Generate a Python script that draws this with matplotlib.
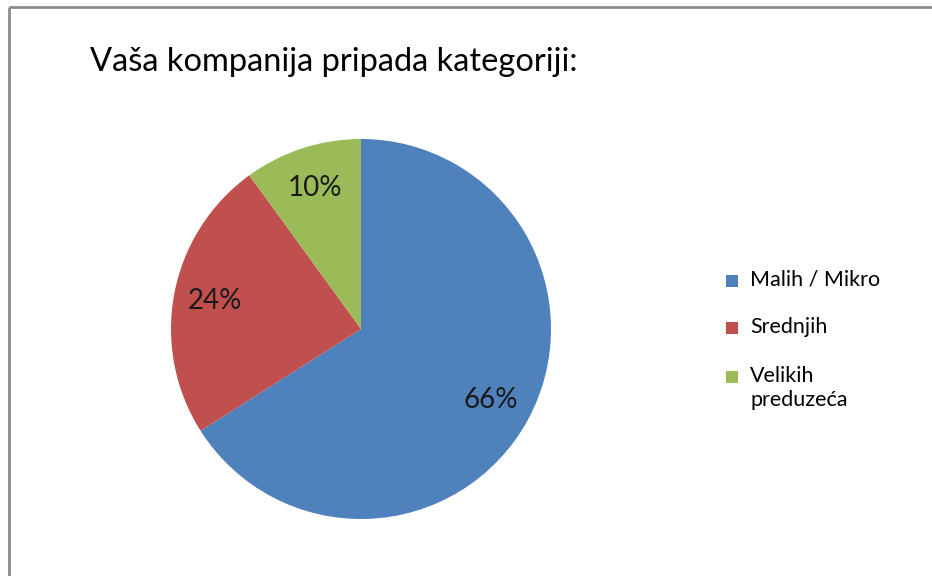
import matplotlib.pyplot as plt
from matplotlib.lines import Line2D
from matplotlib.patches import Rectangle

#%% Podaci

kategorije = ['Malih / Mikro', 'Srednjih', 'Velikih\npreduzeća']
procenti = [66, 24, 10]
boje = ['#4F81BD', '#C0504D', '#9BBB59']
naslov = 'Vaša kompanija pripada kategoriji:'

#%% Grafik

plt.rcParams['font.family'] = ['Lato', 'DejaVu Sans']

W, H = 932, 576
fig = plt.figure(figsize=(W / 100, H / 100), dpi=100)
fig.patch.set_facecolor('white')

# okvir (gore i levo)
fig.add_artist(Line2D([9/W, 9/W], [0, 1 - 7/H], transform=fig.transFigure,
                      color='#8c8c8c', lw=2, solid_capstyle='butt'))
fig.add_artist(Line2D([9/W, 1.01], [1 - 7/H, 1 - 7/H], transform=fig.transFigure,
                      color='#8c8c8c', lw=2, solid_capstyle='butt'))

ax = fig.add_axes([171/W, 1 - 519/H, 380/W, 380/H])
wedges, texts, autotexts = ax.pie(procenti, colors=boje, startangle=90, counterclock=False,
                                  autopct='%d%%', pctdistance=0.78,
                                  textprops={'fontsize': 20, 'color': '#1a1a1a'})
ax.set_xlim(-1, 1)
ax.set_ylim(-1, 1)
ax.set_aspect('equal')

fig.text(90/W, 1 - 62/H, naslov, fontsize=23.5, va='center', ha='left', color='black')

# legenda (kvadrat poravnat sa prvim redom teksta)
leg_y = [281, 328, 377]
for y, lab, c in zip(leg_y, kategorije, boje):
    fig.add_artist(Rectangle(((726)/W, 1 - (y + 6)/H), 12/W, 12/H,
                             transform=fig.transFigure, facecolor=c, edgecolor='none'))
    fig.text(750/W, 1 - (y - 11)/H, lab, fontsize=15.5, va='top', ha='left',
             color='black', linespacing=1.25)

plt.savefig('out.png', dpi=100)
